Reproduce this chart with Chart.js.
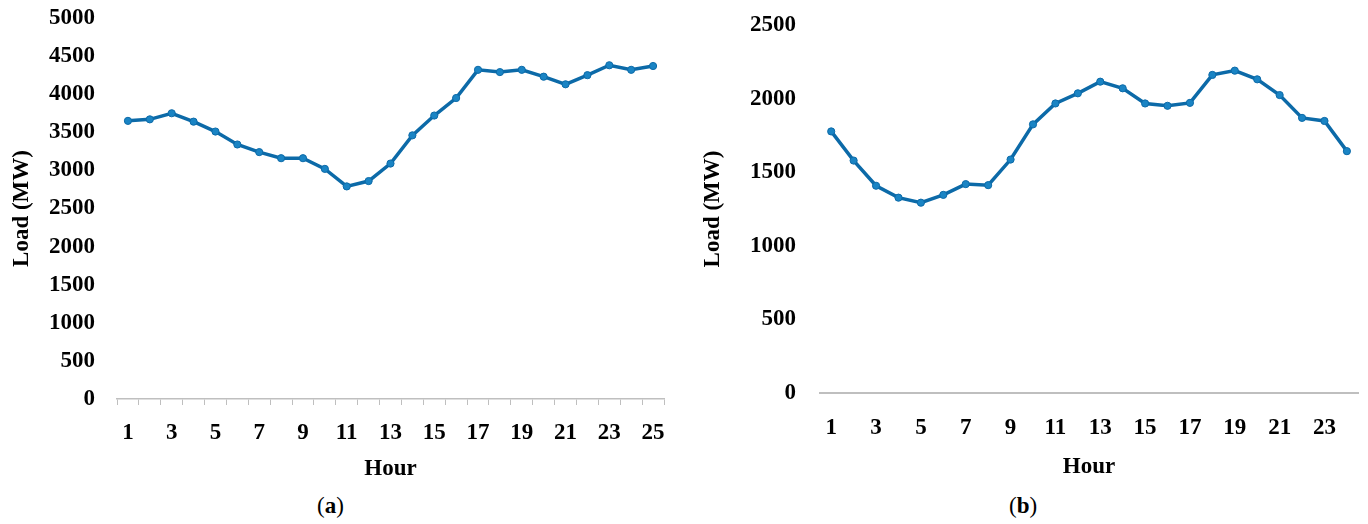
<!DOCTYPE html>
<html>
<head>
<meta charset="utf-8">
<script src="https://cdn.jsdelivr.net/npm/chart.js@4/dist/chart.umd.min.js"></script>
<style>
  body { margin:0; background:#fff; width:1368px; height:524px; position:relative; overflow:hidden; }
  .box { position:absolute; top:0; }
  .cap { position:absolute; top:493px; font-family:"Liberation Serif", serif; font-size:23px; color:#000; }
</style>
</head>
<body>
<div class="box" style="left:0px"><canvas id="chartA" width="680" height="490"></canvas></div>
<div class="box" style="left:690px"><canvas id="chartB" width="678" height="490"></canvas></div>
<div class="cap" style="left:317px">(<b>a</b>)</div>
<div class="cap" style="left:1009px">(<b>b</b>)</div>
<script>
// hours on x axis
const hoursA = ['1','2','3','4','5','6','7','8','9','10','11','12','13','14','15','16','17','18','19','20','21','22','23','24','25'];
const hoursB = ['1','2','3','4','5','6','7','8','9','10','11','12','13','14','15','16','17','18','19','20','21','22','23','24'];

// load values (MW)
const loadA = [3650, 3670, 3750, 3640, 3510, 3340, 3240, 3160, 3160, 3020, 2790, 2860, 3090, 3460, 3720, 3950, 4320, 4290, 4320, 4230, 4130, 4250, 4380, 4320, 4370];
const loadB = [1777, 1579, 1408, 1327, 1293, 1346, 1419, 1412, 1586, 1825, 1967, 2036, 2115, 2070, 1967, 1951, 1971, 2161, 2190, 2131, 2024, 1869, 1848, 1643];

const yTicksA = {min:0, max:5000, step:500};
const yTicksB = {min:0, max:2500, step:500};

const FONT = {family:'"Liberation Serif", serif', size:23, weight:'bold'};
const LINE = '#0c6aa8';
const DOT = '#1a84c4';

function makeChart(el, labels, data, yt, opt) {
    return new Chart(document.getElementById(el), {
        type:'line',
        data:{
            labels:labels,
            datasets:[{
                data:data,
                borderColor:LINE,
                borderWidth:3.5,
                pointRadius:3.6,
                pointBackgroundColor:DOT,
                pointBorderColor:LINE,
                pointBorderWidth:1,
                tension:0,
                fill:false
            }]
        },
        options:{
            responsive:false,
            animation:false,
            devicePixelRatio:1,
            layout:{padding:{top:opt.top, right:opt.right, left:0, bottom:0}},
            plugins:{legend:{display:false}, tooltip:{enabled:false}},
            scales:{
                x:{
                    type:'category',
                    offset:true,
                    grid:{display:true, offset:true, drawOnChartArea:false, drawTicks:opt.xTicks, tickLength:6, color:'#bfbfbf', lineWidth:1},
                    border:{display:true, color:'#bfbfbf', width:opt.borderW},
                    ticks:{
                        autoSkip:false, maxRotation:0, color:'#000', font:FONT, padding:opt.xPad,
                        callback:function(v, i) { return i % 2 === 0 ? labels[i] : ''; }
                    },
                    title:{display:true, text:'Hour', color:'#000', font:FONT, padding:{top:0, bottom:opt.hourPad}},
                    afterFit:function(s) { s.height = opt.xH; }
                },
                y:{
                    min:yt.min, max:yt.max,
                    grid:{display:false},
                    border:{display:false},
                    ticks:{stepSize:yt.step, color:'#000', font:FONT, padding:opt.yPad,
                        callback:function(v) { return String(v); }},
                    title:{display:true, text:'Load (MW)', color:'#000', font:FONT, padding:{top:opt.loadPad, bottom:0}},
                    // tick padding would otherwise push the plot top down
                    afterFit:function(s) { s.width = opt.yW; s.paddingTop = 0; s.paddingBottom = 0; }
                }
            }
        }
    });
}

makeChart('chartA', hoursA, loadA, yTicksA, {top:18, right:16, xTicks:true, borderW:1.5, xPad:14, xH:91, hourPad:7, yPad:14, yW:117, loadPad:8});
makeChart('chartB', hoursB, loadB, yTicksB, {top:25, right:4, xTicks:false, borderW:2, xPad:21, xH:97, hourPad:9, yPad:16, yW:130, loadPad:9});
</script>
</body>
</html>
